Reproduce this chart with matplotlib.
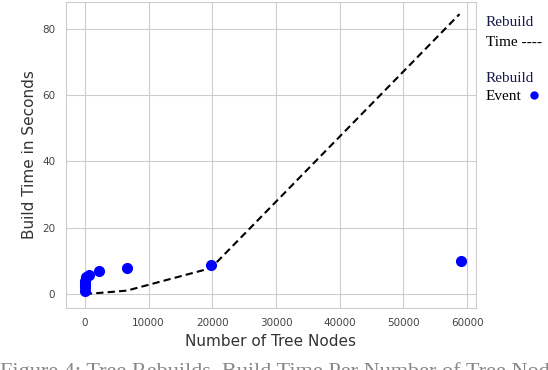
import matplotlib.pyplot as plt
import seaborn as sns

# rebuild events (tree nodes, build time in seconds)
event_nodes = [0, 0, 0, 0, 150, 700, 2300, 6600, 19800, 59000]
event_times = [1, 2, 3, 4, 5, 5.8, 6.9, 7.8, 8.8, 10]

# rebuild time curve
line_nodes = [0, 700, 2300, 6600, 19800, 58800]
line_times = [0, 0.1, 0.3, 1.0, 7.8, 84.5]

sns.set_style('whitegrid')

fig = plt.figure(figsize=(5.48, 3.70), dpi=100)
ax = fig.add_axes([0.120, 0.168, 0.749, 0.827])

ax.plot(line_nodes, line_times, '--', color='black', lw=1.5, dashes=(3.5, 2))
ax.plot(event_nodes, event_times, 'o', color='blue', ms=7)

ax.set_xlim(-2984, 61414)
ax.set_ylim(-4.2, 88.2)
ax.set_xticks([0, 10000, 20000, 30000, 40000, 50000, 60000])
ax.set_yticks([0, 20, 40, 60, 80])
ax.tick_params(labelsize=7.5, colors='#444444', pad=4)
ax.set_xlabel('Number of Tree Nodes', fontsize=11, color='#333333')
ax.set_ylabel('Build Time in Seconds', fontsize=11, color='#333333')
for s in ax.spines.values():
    s.set_color('#cccccc')

serif = 'Liberation Serif'
kw = dict(family=serif, fontsize=11, va='center')
fig.text(0.886, 0.938, 'Rebuild', color='#1a1a4a', **kw)
fig.text(0.886, 0.886, 'Time ----', color='black', **kw)
fig.text(0.886, 0.789, 'Rebuild', color='#1a1a4a', **kw)
fig.text(0.886, 0.738, 'Event', color='black', **kw)
fig.lines.append(plt.Line2D([0.974], [0.743], marker='o', ms=5, color='blue',
                            transform=fig.transFigure, figure=fig))

fig.text(0.0, -0.018, 'Figure 4: Tree Rebuilds, Build Time Per Number of Tree Nodes',
         family=serif, fontsize=16, color='#888888')

fig.savefig('out.png', dpi=100)
